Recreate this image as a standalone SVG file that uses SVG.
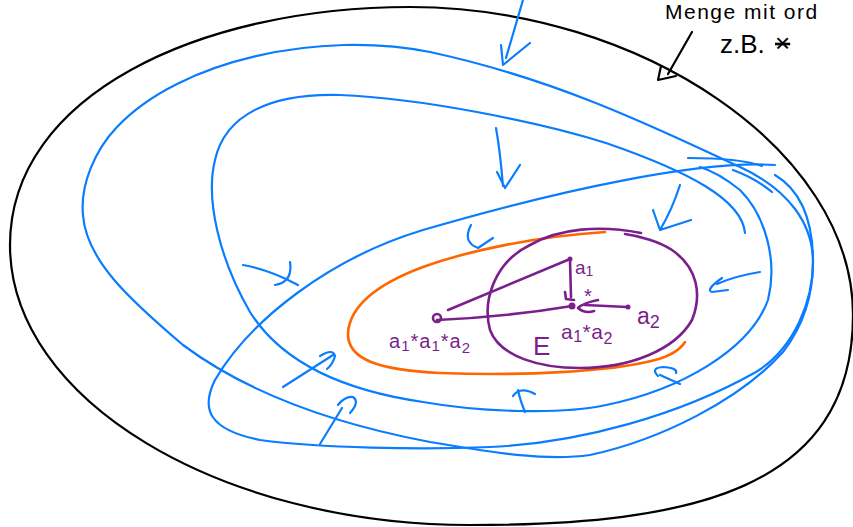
<svg xmlns="http://www.w3.org/2000/svg" width="853" height="527" viewBox="0 0 853 527">
<style>
.blk{fill:none;stroke:#000;stroke-width:2.2;stroke-linecap:round;stroke-linejoin:round}
.blu{fill:none;stroke:#0a7dff;stroke-width:2.2;stroke-linecap:round;stroke-linejoin:round}
.org{fill:none;stroke:#ff6600;stroke-width:2.6;stroke-linecap:round;stroke-linejoin:round}
.pur{fill:none;stroke:#7a1f8c;stroke-width:2.6;stroke-linecap:round;stroke-linejoin:round}
.dot{fill:#7a1f8c}
.pt{font-family:"Liberation Sans","DejaVu Sans",sans-serif;fill:#7a1f8c}
.bt{font-family:"Liberation Sans","DejaVu Sans",sans-serif;fill:#000}
</style>
<rect width="853" height="527" fill="#fff"/>
<g id="universe">
<path class="blk" d="M10,245 C10,95 200,7 410,7 C640,7 853,150 853,315 C853,490 690,525 470,525 C220,525 10,400 10,245 Z"/>
<text class="bt" x="665" y="19" font-size="21" letter-spacing="1.5">Menge mit ord</text>
<text class="bt" x="720" y="53" font-size="26">z.B.</text>
<text class="bt" x="775" y="52" font-size="26" text-decoration="line-through">×</text>
<path class="blk" d="M692,32 L668,74 M661,66 L658,80 L676,76"/>
</g>
<g id="loops">
<path id="loop1" class="blu" d="M740,167 C660,130 560,80 430,52 C320,30 180,60 117,127 C95,150 80,185 83,215 C86,260 130,300 183,345 C250,395 340,425 430,442 C480,450 540,462 590,455 C660,440 740,400 783,352 C800,330 813,300 813,262 C813,225 790,190 740,167"/>
<path id="loop2" class="blu" d="M745,233 C742,200 690,172 606,143 C540,122 420,98 340,95 C270,93 225,115 215,160 C205,200 220,260 250,312 C280,360 340,390 423,402 C480,412 560,415 606,405 C680,390 750,350 768,300 C778,260 765,215 740,190 C725,178 710,170 700,167"/>
<path id="loop3" class="blu" d="M775,165 C700,160 560,190 423,230 C330,258 250,320 215,380 C200,410 210,430 260,440 C320,448 420,450 490,447 C580,443 680,415 756,372 C795,348 813,300 813,262 C813,220 800,190 775,175"/>
<path class="blu" d="M688,158 C720,158 745,160 762,166 M733,170 Q755,178 772,192"/>
</g>
<g id="arrows">
<path class="blu" d="M523,0 L506,58 M501,45 L503,65 L530,43"/>
<path class="blu" d="M496,128 Q500,150 503,186 M497,172 L505,188 L520,165"/>
<path class="blu" d="M680,185 Q672,210 660,230 M653,210 L660,230 L691,220"/>
<path class="blu" d="M471,225 Q462,242 478,248 L493,238"/>
<path class="blu" d="M760,272 Q735,276 717,284 M722,278 Q705,290 712,292 L728,290"/>
<path class="blu" d="M243,265 Q270,270 298,285 M290,262 Q293,282 275,285"/>
<path class="blu" d="M283,387 L333,355 M320,356 Q333,348 335,356 Q333,364 327,369"/>
<path class="blu" d="M320,444 L342,408 M338,405 Q345,396 353,397 Q360,402 350,413"/>
<path class="blu" d="M525,412 Q520,400 518,390 M513,396 Q520,386 535,394"/>
<path class="blu" d="M680,384 L660,375 M658,376 Q650,368 663,367 Q678,368 676,373"/>
</g>
<g id="closure">
<path class="org" d="M605,232 C540,236 470,250 423,267 C380,283 350,305 348,333 C347,360 380,370 440,373 C520,376 610,372 655,360 C670,356 680,350 685,342"/>
</g>
<g id="setE">
<path class="pur" d="M641,233 C600,225 560,228 530,245 C495,262 482,300 490,330 C500,357 540,368 580,368 C630,368 675,350 692,320 C702,295 698,268 672,250 C660,242 640,236 625,234"/>
<text class="pt" x="533" y="355" font-size="26">E</text>
</g>
<g id="elements">
<path class="pur" d="M570,259 L448,310 M570,260 L571,297 M565,292 L566,299 L574,300 M437,320 C480,318 530,313 572,306 M598,300 Q583,303 578,308 Q585,314 594,311 M585,305 L627,307"/>
<circle class="pur" cx="437" cy="318" r="4" stroke-width="2.2"/>
<circle class="dot" cx="570" cy="259" r="2.5"/>
<circle class="dot" cx="572" cy="306" r="3.5"/>
<circle class="dot" cx="628" cy="307" r="2.5"/>
<text class="pt" x="584" y="303" font-size="20">*</text>
<text class="pt" x="575" y="274" font-size="19">a<tspan font-size="14" dy="2">1</tspan></text>
<text class="pt" x="637" y="324" font-size="23">a<tspan font-size="18" dy="4">2</tspan></text>
<text class="pt" x="561" y="339" font-size="21" letter-spacing="0.5">a<tspan font-size="16" dy="3">1</tspan><tspan dy="-3">*a</tspan><tspan font-size="16" dy="5">2</tspan></text>
<text class="pt" x="389" y="348" font-size="20" letter-spacing="1">a<tspan font-size="15" dy="3">1</tspan><tspan dy="-3">*a</tspan><tspan font-size="15" dy="3">1</tspan><tspan dy="-3">*a</tspan><tspan font-size="15" dy="5">2</tspan></text>
</g>
</svg>
